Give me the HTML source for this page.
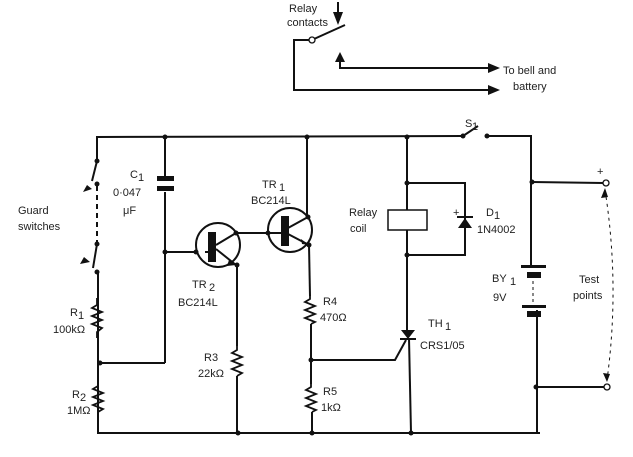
<!DOCTYPE html>
<html><head><style>
body{margin:0;background:#fff;width:633px;height:452px;overflow:hidden}
text{font-family:"Liberation Sans",sans-serif;font-size:11px;fill:#222}
</style></head><body>
<svg width="633" height="452" viewBox="0 0 633 452" xmlns="http://www.w3.org/2000/svg">
<g stroke="#111" stroke-width="2" fill="none">
<line x1="338" y1="2" x2="338" y2="20"/>
<line x1="314" y1="39" x2="345" y2="25"/>
<polyline points="310,40 294,40 294,90 492,90"/>
<polyline points="340,58 340,68 492,68"/>
<polyline points="463,136 97,137 97,161"/>
<line x1="97" y1="161" x2="92" y2="181"/>
<line x1="97" y1="186" x2="97" y2="244" stroke-dasharray="5,4"/>
<line x1="97" y1="244" x2="93" y2="268"/>
<polyline points="98,272 98,433 540,433"/>
<line x1="463" y1="136" x2="478" y2="126"/>
<polyline points="487,136 531,136 531,266"/>
<polyline points="537,310 537,433"/>
<line x1="532" y1="182" x2="603" y2="183"/>
<line x1="536" y1="387" x2="604" y2="387"/>
<line x1="165" y1="137" x2="165" y2="176"/>
<line x1="165" y1="192" x2="165" y2="363"/>
<line x1="100" y1="363" x2="165" y2="363"/>
<line x1="165" y1="252" x2="196" y2="252"/>
<circle cx="218" cy="245" r="22"/>
<line x1="205" y1="252" x2="212" y2="252"/>
<line x1="216" y1="245" x2="236" y2="233"/>
<line x1="216" y1="249" x2="236" y2="265"/>
<polyline points="236,233 268,233"/>
<polyline points="237,265 237,346"/>
<polyline points="237,376 237,433"/>
<circle cx="290" cy="230" r="22"/>
<line x1="268" y1="233" x2="283" y2="233"/>
<line x1="288" y1="228" x2="308" y2="217"/>
<line x1="288" y1="234" x2="309" y2="245"/>
<polyline points="307,137 307,217"/>
<polyline points="309,245 310,296"/>
<polyline points="311,324 311,384"/>
<polyline points="312,412 312,433"/>
<polyline points="311,360 395,360 406,340"/>
<polyline points="407,136 407,210"/>
<polyline points="407,230 407,330"/>
<polyline points="409,338 411,433"/>
<polyline points="407,183 465,183 465,255 407,255"/>
</g>
<g stroke="#111" stroke-width="1.8" fill="none">
<polyline points="97,298 97,305 92,308 102,312 92,316 102,320 92,324 102,328 97,332 97,338"/>
<polyline points="98,380 98,386 93,389 103,393 93,397 103,401 93,405 103,409 98,412 98,418"/>
<polyline points="237,346 237,350 232,353 242,357 232,361 242,365 232,369 242,373 237,376"/>
<polyline points="310,296 310,299 305,302 315,306 305,310 315,314 305,318 315,322 311,324"/>
<polyline points="311,384 311,387 306,390 316,394 306,398 316,402 306,406 316,410 312,412"/>
<rect x="388" y="210" width="39" height="20" stroke-width="1.5"/>
<line x1="533" y1="281" x2="533" y2="302" stroke-dasharray="3,3" stroke-width="1"/>
<path d="M605,190 Q620,285 607,380" stroke-dasharray="3,4" stroke-width="1"/>
</g>
<g fill="#111">
<rect x="157" y="176" width="17" height="5"/><rect x="157" y="186" width="17" height="5"/>
<rect x="208" y="232" width="8" height="30"/>
<rect x="281" y="216" width="8" height="30"/>
<polygon points="229,260 236,265 227,266"/>
<polygon points="302,244 309,245 301,239"/>
<polygon points="338,25 333,12 343,12"/>
<polygon points="340,52 335,62 345,62"/>
<polygon points="500,68 488,63 488,73"/>
<polygon points="500,90 488,85 488,95"/>
<polygon points="465,218 458,228 472,228"/>
<rect x="457" y="216" width="16" height="2"/>
<polygon points="401,330 415,330 408,339"/>
<rect x="400" y="338" width="16" height="2"/>
<rect x="521" y="265" width="25" height="3"/><rect x="527" y="272" width="14" height="6"/>
<rect x="522" y="305" width="24" height="3"/><rect x="527" y="311" width="14" height="6"/>
<polygon points="605,188 601,198 608,197"/><polygon points="607,382 603,373 610,374"/>
<polygon points="92,189 83,192 87,185"/><polygon points="90,262 80,264 84,257"/>
<g>
<circle cx="97" cy="161" r="2.5"/><circle cx="97" cy="184" r="2.5"/><circle cx="97" cy="244" r="2.5"/><circle cx="97" cy="272" r="2.5"/>
<circle cx="165" cy="137" r="2.5"/><circle cx="165" cy="252" r="2.5"/><circle cx="100" cy="363" r="2.5"/><circle cx="307" cy="137" r="2.5"/>
<circle cx="196" cy="252" r="2.5"/><circle cx="236" cy="233" r="2.5"/><circle cx="237" cy="265" r="2.5"/><circle cx="268" cy="233" r="2.5"/>
<circle cx="308" cy="217" r="2.5"/><circle cx="309" cy="245" r="2.5"/><circle cx="311" cy="360" r="2.5"/>
<circle cx="407" cy="137" r="2.5"/><circle cx="407" cy="183" r="2.5"/><circle cx="407" cy="255" r="2.5"/>
<circle cx="463" cy="136" r="2.5"/><circle cx="487" cy="136" r="2.5"/><circle cx="532" cy="182" r="2.5"/><circle cx="536" cy="387" r="2.5"/>
<circle cx="238" cy="433" r="2.5"/><circle cx="312" cy="433" r="2.5"/><circle cx="411" cy="433" r="2.5"/>
</g>
</g>
<g fill="#fff" stroke="#111" stroke-width="1.3">
<circle cx="312" cy="40" r="3"/><circle cx="606" cy="183" r="3"/><circle cx="607" cy="387" r="3"/>
</g>
<text x="289" y="12">Relay</text><text x="287" y="26">contacts</text>
<text x="503" y="74">To bell and</text><text x="513" y="90">battery</text>
<text x="465" y="127">S</text><text x="472" y="130" font-size="8">1</text>
<text x="18" y="214">Guard</text><text x="18" y="230">switches</text>
<text x="130" y="178">C</text><text x="138" y="181" font-size="8">1</text>
<text x="113" y="196">0·047</text><text x="123" y="214">μF</text>
<text x="262" y="188">TR</text><text x="279" y="191" font-size="8">1</text>
<text x="251" y="204">BC214L</text>
<text x="192" y="288">TR</text><text x="209" y="291" font-size="8">2</text>
<text x="178" y="306">BC214L</text>
<text x="70" y="316">R</text><text x="78" y="319" font-size="8">1</text>
<text x="53" y="333">100kΩ</text>
<text x="72" y="398">R</text><text x="80" y="401" font-size="8">2</text>
<text x="67" y="414">1MΩ</text>
<text x="204" y="361">R3</text><text x="198" y="377">22kΩ</text>
<text x="323" y="305">R4</text><text x="320" y="321">470Ω</text>
<text x="323" y="395">R5</text><text x="321" y="411">1kΩ</text>
<text x="349" y="216">Relay</text><text x="350" y="232">coil</text>
<text x="486" y="216">D</text><text x="494" y="219" font-size="8">1</text>
<text x="477" y="233">1N4002</text>
<text x="453" y="216" font-size="9">+</text>
<text x="428" y="327">TH</text><text x="445" y="330" font-size="8">1</text>
<text x="420" y="349">CRS1/05</text>
<text x="492" y="282">BY</text><text x="510" y="285" font-size="8">1</text>
<text x="493" y="301">9V</text>
<text x="579" y="283">Test</text><text x="573" y="299">points</text>
<text x="597" y="175">+</text>
</svg>
</body></html>
